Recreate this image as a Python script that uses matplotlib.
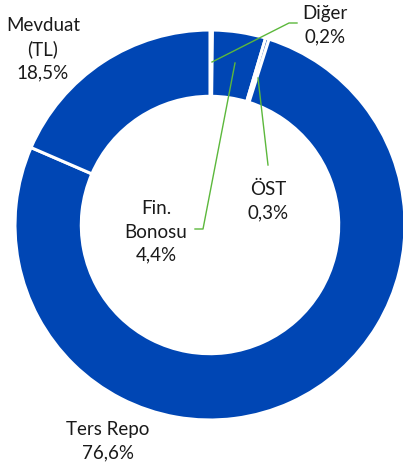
import matplotlib
matplotlib.use("Agg")
import matplotlib.pyplot as plt

categories = ["Diğer", "Fin. Bonosu", "ÖST", "Ters Repo", "Mevduat (TL)"]
values = [0.2, 4.4, 0.3, 76.6, 18.5]
label_texts = ["Diğer\n0,2%", "Fin.\nBonosu\n4,4%", "ÖST\n0,3%", "Ters Repo\n76,6%", "Mevduat\n(TL)\n18,5%"]

W, H = 403, 468
BLUE = "#0046B4"
GREEN = "#5CB83C"

plt.rcParams['font.family'] = ['Lato', 'DejaVu Sans']
fig = plt.figure(figsize=(W / 100, H / 100), dpi=100)
ax = fig.add_axes([0, 0, 1, 1])

R = 195
cx, cy = 210, H - 225
ax.pie(values, startangle=90, counterclock=False, radius=R, center=(cx, cy),
       colors=[BLUE] * len(values),
       wedgeprops=dict(width=R * 0.34, edgecolor="white", linewidth=2.2))
ax.set_xlim(0, W)
ax.set_ylim(0, H)
ax.set_aspect("auto")
ax.axis("off")

def P(x, y):
    return x, H - y

# label positions (pixel coords, top-left origin)
label_pos = [(325, 25), (156, 232), (268, 201), (108, 441), (43, 49)]
for txt, (x, y) in zip(label_texts, label_pos):
    ax.text(*P(x, y), txt, ha="center", va="center", fontsize=13.5,
            color="#1a1a1a", linespacing=1.45)

# leader lines
leaders = [
    [(297, 23), (289, 23), (212, 62)],
    [(235, 63), (203, 229), (195, 229)],
    [(258, 78), (268, 165)],
]
for pts in leaders:
    xs = [p[0] for p in pts]
    ys = [H - p[1] for p in pts]
    ax.plot(xs, ys, color=GREEN, linewidth=1.0)

fig.savefig("out.png", dpi=100)
